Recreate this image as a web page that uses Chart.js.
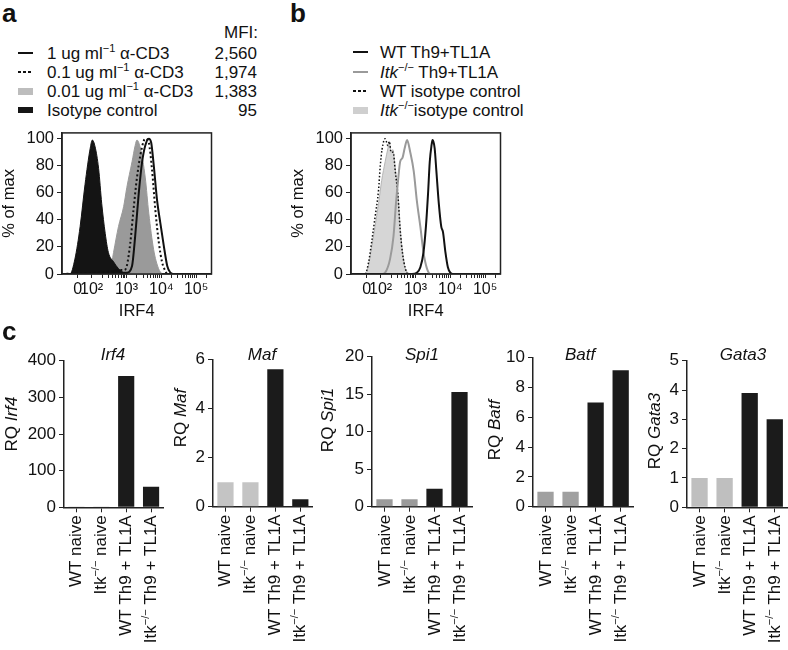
<!DOCTYPE html>
<html>
<head>
<meta charset="utf-8">
<script src="https://cdn.jsdelivr.net/npm/chart.js@4.4.1/dist/chart.umd.min.js"></script>
<style>
body { margin: 0; background: #fff; }
#fig { position: relative; width: 788px; height: 650px; overflow: hidden;
       font-family: "Liberation Sans", Arial, Helvetica, sans-serif; color: #111; }
#fig canvas { position: absolute; z-index: 1; }
.t { position: absolute; white-space: nowrap; line-height: 1; z-index: 2; color: #111; }
.mid { transform: translateY(-50%); }
.letter { font-weight: bold; font-size: 26px; line-height: 26px; }
.leg { font-size: 17px; }
.sup { font-size: 11px; position: relative; top: -7px; }
.sw { position: absolute; width: 15px; z-index: 2; }
.gene { font-style: italic; font-size: 17px; width: 80px; height: 20px; line-height: 20px; text-align: center; }
.ytl { font-size: 17px; width: 100px; height: 20px; line-height: 20px; text-align: center; transform: rotate(-90deg); }
</style>
</head>
<body>
<div id="fig">
  <div class="t letter" style="left:2px;top:0px">a</div>
  <div class="t letter" style="left:290px;top:0px">b</div>
  <div class="t letter" style="left:2px;top:318px">c</div>

  <canvas id="histA" width="230" height="205" style="left:0px;top:120px"></canvas>
  <canvas id="histB" width="230" height="205" style="left:289px;top:120px"></canvas>
  <canvas id="bar0"></canvas>
  <canvas id="bar1"></canvas>
  <canvas id="bar2"></canvas>
  <canvas id="bar3"></canvas>
  <canvas id="bar4"></canvas>
</div>

<script>
/* ===== Data ===== */
// x positions of the histograms are in decades (10^2 -> 2, 10^3 -> 3 ...)
const xTickVals = [1.6, 2, 3, 4, 5];
const xTickText = ['0', '10²', '10³', '10⁴', '10⁵'];

// panel a, % of max
const aIsoX  = [1.15, 1.38, 1.52, 1.67, 1.81, 1.96, 2.02, 2.10, 2.20, 2.29, 2.39, 2.48, 2.63, 2.77, 2.92, 3.05];
const aIsoY  = [0, 0, 11, 35, 66, 93, 99, 94, 78, 52, 30, 16, 9, 4, 1, 0];
const aLowX  = [2.45, 2.53, 2.63, 2.77, 2.92, 3.01, 3.16, 3.25, 3.30, 3.40, 3.54, 3.64, 3.78, 3.92, 4.02];
const aLowY  = [0, 2, 16, 35, 50, 64, 83, 95, 99, 93, 71, 45, 18, 4, 0];
const aMidX  = [1.15, 2.62, 2.82, 2.94, 3.01, 3.11, 3.20, 3.30, 3.40, 3.49, 3.54, 3.64, 3.73, 3.83, 3.93, 4.02, 4.12, 4.17, 5.44];
const aMidY  = [0, 2, 3, 3, 6, 23, 47, 71, 88, 98, 100, 97, 78, 47, 23, 9, 2, 0, 0];
const aHighX = [1.15, 2.60, 2.68, 2.87, 3.01, 3.16, 3.25, 3.35, 3.45, 3.54, 3.64, 3.71, 3.78, 3.88, 3.97, 4.07, 4.17, 4.26, 4.35, 5.44];
const aHighY = [0, 0, 3, 1, 1, 6, 28, 59, 83, 95, 100, 97, 81, 54, 38, 21, 6, 1, 0, 0];
const mfi = ['2,560', '1,974', '1,383', '95'];

// panel b, % of max
const bKoIsoX = [1.50, 1.55, 1.65, 1.75, 1.84, 1.94, 2.03, 2.13, 2.21, 2.25, 2.30, 2.35, 2.42, 2.50, 2.56, 2.63, 2.71, 2.78, 2.85];
const bKoIsoY = [0, 0, 6, 21, 35, 52, 69, 83, 93, 98, 90, 92, 78, 59, 35, 16, 4, 1, 0];
const bWtIsoX = [1.15, 1.55, 1.65, 1.75, 1.84, 1.94, 1.99, 2.04, 2.13, 2.21, 2.25, 2.30, 2.36, 2.42, 2.50, 2.56, 2.63, 2.71, 2.78, 5.44];
const bWtIsoY = [0, 0, 8, 25, 42, 62, 80, 92, 100, 95, 98, 90, 90, 76, 57, 33, 15, 4, 0, 0];
const bKoX    = [1.15, 2.05, 2.13, 2.27, 2.37, 2.44, 2.50, 2.56, 2.63, 2.69, 2.76, 2.85, 2.95, 3.04, 3.14, 3.23, 3.33, 3.43, 5.44];
const bKoY    = [0, 0, 1, 11, 28, 52, 69, 83, 86, 93, 99, 90, 76, 54, 35, 16, 4, 0, 0];
const bWtX    = [1.15, 2.90, 3.04, 3.14, 3.23, 3.30, 3.36, 3.41, 3.46, 3.49, 3.55, 3.60, 3.67, 3.74, 3.79, 3.86, 3.93, 4.00, 4.07, 5.44];
const bWtY    = [0, 0, 1, 5, 16, 35, 59, 83, 95, 99, 93, 76, 52, 35, 31, 16, 5, 1, 0, 0];

// panel c, RQ
const categories = ['WT naive', 'Itk−/− naive', 'WT Th9 + TL1A', 'Itk−/− Th9 + TL1A'];
const genes = ['Irf4', 'Maf', 'Spi1', 'Batf', 'Gata3'];
const irf4  = [1, 1, 358, 56];
const maf   = [1, 1, 5.6, 0.3];
const spi1  = [1, 1, 2.4, 15.3];
const batf  = [1, 1, 7.0, 9.15];
const gata3 = [1, 1, 3.9, 3.0];
const rqValues = [irf4, maf, spi1, batf, gata3];
const rqMax  = [400, 6, 20, 10, 5];
const rqStep = [100, 2, 5, 2, 1];


/* ===== Helpers ===== */
Chart.defaults.font.family = '"Liberation Sans", Arial, Helvetica, sans-serif';
Chart.defaults.color = '#111';

const fig = document.getElementById('fig');
function addText(html, cls, style){
    const d = document.createElement('div');
    d.className = 't ' + cls;
    d.innerHTML = html;
    Object.assign(d.style, style);
    fig.appendChild(d);
    return d;
}
function addSwatch(left, y, css){
    const d = document.createElement('div');
    d.className = 'sw';
    d.style.left = left + 'px';
    Object.assign(d.style, css);
    d.style.top = (y - parseFloat(css.height) / 2) + 'px';
    fig.appendChild(d);
}
const pts = (xs, ys) => xs.map((x, i) => ({x: x, y: ys[i]}));

const dashCss = color => ({height: '2px', background: 'repeating-linear-gradient(90deg,' + color + ' 0 3px,transparent 3px 5px)'});
const lineCss = color => ({height: '2px', background: color});
const boxCss  = (color, h) => ({height: h + 'px', background: color});


/* ===== Legends (a, b) ===== */
const sup = s => '<span class="sup">' + s + '</span>';
const legendA = [
    '1 ug ml' + sup('−1') + ' α-CD3',
    '0.1 ug ml' + sup('−1') + ' α-CD3',
    '0.01 ug ml' + sup('−1') + ' α-CD3',
    'Isotype control'
];
const legendASw = [lineCss('#111'), dashCss('#111'), boxCss('#bdbdbd', 7), boxCss('#161616', 6)];
const rowsA = [53, 72, 91, 109.5];
addText('MFI:', 'leg mid', {right: (788 - 258) + 'px', top: '31.5px'});
legendA.forEach((txt, i) => {
    addSwatch(18, rowsA[i], legendASw[i]);
    addText(txt, 'leg mid', {left: '47px', top: rowsA[i] + 'px'});
    addText(mfi[i], 'leg mid', {right: (788 - 257) + 'px', top: rowsA[i] + 'px'});
});

const legendB = [
    'WT Th9+TL1A',
    '<i>Itk</i>' + sup('−/−') + ' Th9+TL1A',
    'WT isotype control',
    '<i>Itk</i>' + sup('−/−') + 'isotype control'
];
const legendBSw = [lineCss('#111'), lineCss('#9a9a9a'), dashCss('#111'), boxCss('#cfcfcf', 7)];
const rowsB = [52, 71.5, 91, 110];
legendB.forEach((txt, i) => {
    addSwatch(353, rowsB[i], legendBSw[i]);
    addText(txt, 'leg mid', {left: '380px', top: rowsB[i] + 'px'});
});


/* ===== Histograms ===== */
const boxPlugin = {
    id: 'box',
    afterDraw(chart){
        const a = chart.chartArea, ctx = chart.ctx;
        ctx.save();
        ctx.strokeStyle = '#222';
        ctx.lineWidth = 1.5;
        ctx.strokeRect(a.left, a.top, a.right - a.left, a.bottom - a.top);
        ctx.restore();
    }
};

// minor tick marks on the log part of the axis
const xMinor = [];
[2, 3, 4, 5].forEach(k => {
    for(let m = 2; m <= 9; m++){
        const v = k + Math.log10(m);
        if(v < 5.44) xMinor.push(v);
    }
});
const xAllTicks = xTickVals.concat(xMinor).sort((p, q) => p - q);

function histChart(canvasId, datasets){
    return new Chart(document.getElementById(canvasId), {
        type: 'line',
        data: { datasets: datasets },
        options: {
            responsive: false,
            animation: false,
            devicePixelRatio: 1,
            layout: { padding: { top: 9, right: 18.5, left: 0, bottom: 0 } },
            plugins: { legend: { display: false }, tooltip: { enabled: false } },
            elements: {
                point: { radius: 0 },
                line: { cubicInterpolationMode: 'monotone' }
            },
            scales: {
                x: {
                    type: 'linear', min: 1.15, max: 5.44,
                    afterBuildTicks: s => { s.ticks = xAllTicks.map(v => ({ value: v })); },
                    afterFit: s => { s.height = 51; },
                    ticks: {
                        autoSkip: false, maxRotation: 0, padding: 2,
                        font: { size: 16 },
                        callback: v => {
                            const i = xTickVals.indexOf(v);
                            return i >= 0 ? xTickText[i] : '';
                        }
                    },
                    grid: { drawOnChartArea: false, tickLength: 4, color: '#222' },
                    border: { color: '#222', width: 1.5 },
                    title: { display: true, text: 'IRF4', font: { size: 16.5 }, padding: { top: 0, bottom: 4 } }
                },
                y: {
                    min: 0, max: 104.3,
                    afterFit: s => { s.width = 62; },
                    ticks: { stepSize: 20, includeBounds: false, padding: 3, font: { size: 16.5 } },
                    grid: { drawOnChartArea: false, tickLength: 5, color: '#222' },
                    border: { color: '#222', width: 1.5 },
                    title: { display: true, text: '% of max', font: { size: 16.5 }, padding: 0 }
                }
            }
        },
        plugins: [boxPlugin]
    });
}

histChart('histA', [
    { data: pts(aHighX, aHighY), borderColor: '#111', borderWidth: 2, fill: false },
    { data: pts(aMidX, aMidY), borderColor: '#111', borderWidth: 2, borderDash: [2, 2.5], fill: false },
    { data: pts(aIsoX, aIsoY), borderColor: '#141414', borderWidth: 1, backgroundColor: '#141414', fill: 'origin' },
    { data: pts(aLowX, aLowY), borderColor: '#9a9a9a', borderWidth: 1, backgroundColor: '#9a9a9a', fill: 'origin' }
]);

histChart('histB', [
    { data: pts(bWtX, bWtY), borderColor: '#111', borderWidth: 2, fill: false },
    { data: pts(bKoX, bKoY), borderColor: '#9a9a9a', borderWidth: 2, fill: false },
    { data: pts(bWtIsoX, bWtIsoY), borderColor: '#111', borderWidth: 1.5, borderDash: [1.5, 2], fill: false },
    { data: pts(bKoIsoX, bKoIsoY), borderColor: '#b5b5b5', borderWidth: 1, backgroundColor: '#d6d6d6', fill: 'origin' }
]);


/* ===== Bar charts (c) ===== */
// category labels with a superscript "−/−"
const richTicks = {
    id: 'richTicks',
    afterDraw(chart){
        const ctx = chart.ctx, sx = chart.scales.x;
        const mainFont = '17px "Liberation Sans", Arial, sans-serif';
        const supFont = '11px "Liberation Sans", Arial, sans-serif';
        ctx.save();
        ctx.fillStyle = '#111';
        ctx.textBaseline = 'middle';
        chart.data.labels.forEach((lab, i) => {
            const parts = lab.split('−/−');
            const pieces = [{ t: parts[0], sup: false }];
            if(parts.length > 1){
                pieces.push({ t: '−/−', sup: true });
                pieces.push({ t: parts[1], sup: false });
            }
            let total = 0;
            pieces.forEach(p => {
                ctx.font = p.sup ? supFont : mainFont;
                p.w = ctx.measureText(p.t).width;
                total += p.w;
            });
            ctx.save();
            ctx.translate(Math.round(sx.getPixelForTick(i)), sx.top + 8);
            ctx.rotate(-Math.PI / 2);
            let x = -total;
            pieces.forEach(p => {
                ctx.font = p.sup ? supFont : mainFont;
                ctx.fillText(p.t, x, p.sup ? -5 : 0);
                x += p.w;
            });
            ctx.restore();
        });
        ctx.restore();
    }
};

// axis x, right end, top (max) and zero y of each small chart
const barGeom = [
    { axis: 63.5,  right: 163,   top: 360.7, zero: 507.3 },
    { axis: 212.7, right: 312.5, top: 359.3, zero: 506.7 },
    { axis: 371.7, right: 471.7, top: 356.7, zero: 506.7 },
    { axis: 533.3, right: 633.5, top: 357.7, zero: 506.7 },
    { axis: 686.7, right: 787,   top: 360.7, zero: 507.3 }
];
const naiveGray = ['#bdbdbd', '#c4c4c4', '#9b9b9b', '#a0a0a0', '#bfbfbf'];
const titleX = [113, 262, 422, 580, 743];
const yTitle = [{ x: 12, y: 424 }, { x: 181, y: 418 }, { x: 328, y: 420 }, { x: 495, y: 430 }, { x: 655, y: 431 }];
const canvasTop = 340, canvasBottom = 650, yAxisW = 45;

genes.forEach((gene, g) => {
    const geo = barGeom[g];
    const left = geo.axis - yAxisW;
    const width = geo.right + 1 - left;
    const cv = document.getElementById('bar' + g);
    cv.width = Math.round(width);
    cv.height = canvasBottom - canvasTop;
    cv.style.left = left + 'px';
    cv.style.top = canvasTop + 'px';

    new Chart(cv, {
        type: 'bar',
        data: {
            labels: categories,
            datasets: [{
                data: rqValues[g],
                backgroundColor: [naiveGray[g], naiveGray[g], '#1b1b1b', '#1b1b1b'],
                borderWidth: 0,
                barPercentage: 0.65,
                categoryPercentage: 1
            }]
        },
        options: {
            responsive: false,
            animation: false,
            devicePixelRatio: 1,
            layout: { padding: { top: geo.top - canvasTop, right: cv.width - (geo.right - left), left: 0, bottom: 0 } },
            plugins: { legend: { display: false }, tooltip: { enabled: false } },
            scales: {
                x: {
                    afterFit: s => { s.height = canvasBottom - geo.zero; },
                    ticks: { display: false },
                    grid: { drawOnChartArea: false, offset: false, tickLength: 5, color: '#222' },
                    border: { color: '#222', width: 1.5 }
                },
                y: {
                    min: 0, max: rqMax[g],
                    afterFit: s => { s.width = yAxisW; },
                    ticks: { stepSize: rqStep[g], padding: 3, font: { size: 17 } },
                    grid: { drawOnChartArea: false, tickLength: 5, color: '#222' },
                    border: { color: '#222', width: 1.5 }
                }
            }
        },
        plugins: [richTicks]
    });

    // fixed boxes centred on whole pixels keep the text crisp
    addText(gene, 'gene', { left: (titleX[g] - 40) + 'px', top: '345px' });
    addText('RQ <i>' + gene + '</i>', 'ytl', { left: (yTitle[g].x - 50) + 'px', top: (yTitle[g].y - 10) + 'px' });
});
</script>
</body>
</html>
